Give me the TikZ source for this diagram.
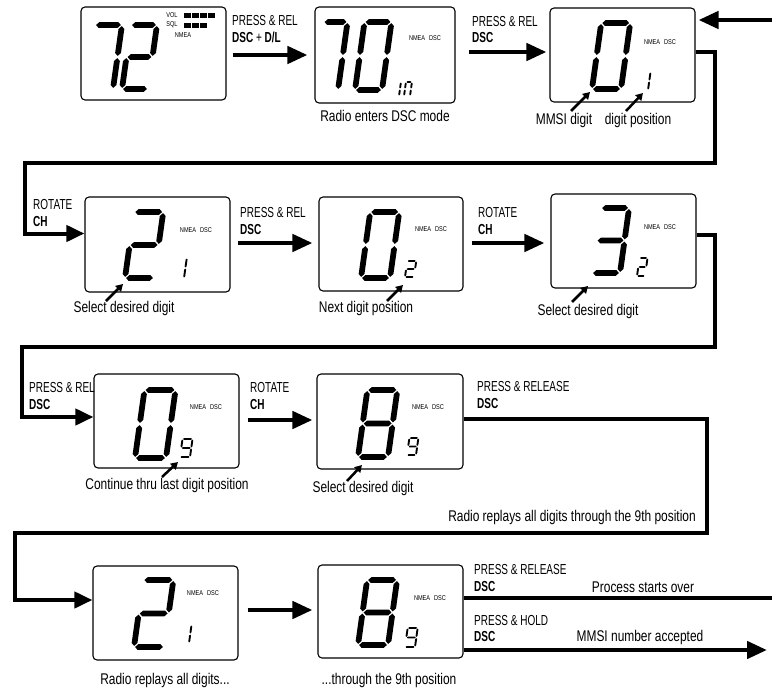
\documentclass[tikz,border=0pt]{standalone}
\usepackage{fontspec}
\setmainfont{Liberation Sans}[FakeStretch=0.77]
\newfontfamily\lblfont{Liberation Sans}[FakeStretch=0.69]
\newfontfamily\tinyfont{Liberation Sans}[FakeStretch=0.8]
\usetikzlibrary{arrows.meta,calc}

% seven-segment helpers
\newcommand\hsg[3]{\fill ({#1+\SG},{#3}) -- ({#1+\SG+\ST/2},{#3-\ST/2}) -- ({#2-\SG-\ST/2},{#3-\ST/2}) -- ({#2-\SG},{#3}) -- ({#2-\SG-\ST/2},{#3+\ST/2}) -- ({#1+\SG+\ST/2},{#3+\ST/2}) -- cycle;}
\newcommand\vsg[3]{\fill ({#1},{#2+\SG}) -- ({#1+\ST/2},{#2+\SG+\ST/2}) -- ({#1+\ST/2},{#3-\SG-\ST/2}) -- ({#1},{#3-\SG}) -- ({#1-\ST/2},{#3-\SG-\ST/2}) -- ({#1-\ST/2},{#2+\SG+\ST/2}) -- cycle;}
\newcommand\segXa{\hsg{0}{\SW}{-\SH}}
\newcommand\segXb{\vsg{\SW}{-\SH}{-\SH/2}}
\newcommand\segXc{\vsg{\SW}{-\SH/2}{0}}
\newcommand\segXd{\hsg{0}{\SW}{0}}
\newcommand\segXe{\vsg{0}{-\SH/2}{0}}
\newcommand\segXf{\vsg{0}{-\SH}{-\SH/2}}
\newcommand\segXg{\hsg{0}{\SW}{-\SH/2}}
% #1 x0, #2 y0 (bottom-left), #3 W, #4 H, #5 thickness, #6 gap, #7 segments
\newcommand\segdigit[7]{%
  \begin{scope}[shift={(#1,#2)},xslant=0.14]
    \def\SW{#3}\def\SH{#4}\def\ST{#5}\def\SG{#6}%
    \foreach \s in {#7}{\csname segX\s\endcsname}
  \end{scope}}
\newcommand\bigdig[5]{\segdigit{#1}{#2}{#3}{#4}{5.8}{1.1}{#5}}
\newcommand\smalldig[5]{\segdigit{#1}{#2}{#3}{#4}{1.9}{0.6}{#5}}

\begin{document}
\begin{tikzpicture}[x=1pt,y=-1pt,
  lcd/.style={draw, line width=1.1pt, rounded corners=4pt, minimum width=145pt, minimum height=94pt, inner sep=0pt},
  arr/.style={line width=4.5pt, -{Triangle[length=20pt,width=17pt]}},
  looparr/.style={line width=4pt, line join=miter, -{Triangle[length=18pt,width=16pt]}},
  loopline/.style={line width=4pt, line join=miter},
  sarr/.style={line width=2.5pt, -{Triangle[length=7pt,width=8pt]}},
  captxt/.style={font=\fontsize{15.5}{17}\selectfont, inner sep=0pt},
  lbltxt/.style={font=\lblfont\fontsize{14.5}{16}\selectfont, anchor=west, inner sep=0pt},
  tinytxt/.style={font=\tinyfont\fontsize{7}{8}\selectfont, inner sep=0pt}]
\useasboundingbox (0,0) rectangle (772,688);
\fill[white] (0,0) rectangle (772,688);

% ---------- boxes ----------
\node[lcd, minimum height=93pt] (A) at (153.5,53.5) {};
\node[lcd, minimum width=140pt, minimum height=96pt] (B) at (385,55) {};
\node[lcd] (C) at (622.5,55) {};
\node[lcd, minimum height=95pt] (D) at (157.5,244.5) {};
\node[lcd, minimum width=144pt] (E) at (391,244) {};
\node[lcd] (F) at (623.5,241) {};
\node[lcd] (G) at (166.5,421) {};
\node[lcd, minimum width=146pt, minimum height=95pt] (H) at (390,421.5) {};
\node[lcd] (I) at (165.5,613) {};
\node[lcd, minimum height=93pt] (J) at (390.5,611.5) {};

% ---------- display contents ----------
% A: 72, VOL/SQL bars
\bigdig{86}{89}{27}{64}{a,b,c}
\bigdig{122}{89}{26}{64}{a,b,g,e,d}
\node[tinytxt] (avol) at (172,15) {VOL};
\node[tinytxt] (asql) at (172,25) {SQL};
\node[tinytxt] (anm) at (183,35) {NMEA};
\foreach \x in {184,192,200,208} {\fill (\x,12.5) rectangle ++(7,5);}
\foreach \x in {184,192,200} {\fill (\x,22.5) rectangle ++(7,5);}
% B: 70 in
\bigdig{314}{90}{24}{68}{a,b,c}
\bigdig{355}{90}{27}{68}{a,b,c,d,e,f}
\smalldig{399}{96}{6}{14}{e,f}
\smalldig{404}{96}{6}{14}{a,b,c,e,f}
\node[tinytxt] (bnm) at (425,38) {NMEA\hspace{4pt}DSC};
% C: 0 1
\bigdig{592}{89}{29}{66}{a,b,c,d,e,f}
\smalldig{640}{90}{8}{18}{b,c}
\node[tinytxt] (cnm) at (660,42) {NMEA\hspace{4pt}DSC};
% D: 2 1
\bigdig{125}{278}{29}{66}{a,b,g,e,d}
\smalldig{176}{278}{8}{20}{b,c}
\node[tinytxt] (dnm) at (196,230) {NMEA\hspace{4pt}DSC};
% E: 0 2
\bigdig{361}{278}{29}{66}{a,b,c,d,e,f}
\smalldig{405}{277}{9}{16}{a,b,g,e,d}
\node[tinytxt] (enm) at (431,229) {NMEA\hspace{4pt}DSC};
% F: 3 2
\bigdig{592}{273}{28}{65}{a,b,g,c,d}
\smalldig{637}{276}{8}{18}{a,b,g,e,d}
\node[tinytxt] (fnm) at (660,227) {NMEA\hspace{4pt}DSC};
% G: 0 9
\bigdig{135}{458}{31}{68}{a,b,c,d,e,f}
\smalldig{180}{457}{10}{18}{a,b,c,d,f,g}
\node[tinytxt] (gnm) at (206,407) {NMEA\hspace{4pt}DSC};
% H: 8 9
\bigdig{358}{457}{30}{67}{a,b,c,d,e,f,g}
\smalldig{407}{455}{9}{17}{a,b,c,d,f,g}
\node[tinytxt] (hnm) at (428,407) {NMEA\hspace{4pt}DSC};
% I: 2 1
\bigdig{134}{647}{30}{67}{a,b,g,e,d}
\smalldig{181}{643}{8}{18}{b,c}
\node[tinytxt] (inm) at (203,593) {NMEA\hspace{4pt}DSC};
% J: 8 9
\bigdig{358}{645}{30}{65}{a,b,c,d,e,f,g}
\smalldig{405}{647}{10}{19}{a,b,c,d,f,g}
\node[tinytxt] (jnm) at (430,598) {NMEA\hspace{4pt}DSC};

% ---------- straight arrows ----------
\draw[arr, shorten <=6pt, shorten >=7pt] (A.east |- B.west) -- (B.west);
\draw[arr, shorten <=13pt, shorten >=3pt] ($(B.east)+(0,-3)$) -- ($(C.west)+(0,-3)$);
\draw[arr, shorten <=7pt, shorten >=6pt] ($(D.east)+(0,-1.5)$) -- ($(D.east -| E.west)+(0,-1.5)$);
\draw[arr, shorten <=8pt, shorten >=6pt] ($(E.east)+(0,-1)$) -- ($(E.east -| F.west)+(0,-1)$);
\draw[arr, shorten <=8pt, shorten >=4pt] ($(G.east)+(0,-1)$) -- ($(G.east -| H.west)+(0,-1)$);
\draw[arr, shorten <=9pt, shorten >=5pt] ($(I.east)+(0,-3)$) -- ($(I.east -| J.west)+(0,-3)$);

% incoming to C
\coordinate (cin) at (772,20);
\draw[arr, shorten >=3pt] (cin) -- (cin -| C.east);

% ---------- loops ----------
\coordinate (k1) at (715,163);
\coordinate (k2) at (25,163);
\draw[looparr] ($(C.east)+(0,-3)$) -| (k1) -- (k2) |- ($(D.west)+(0,-11)$);
\coordinate (k3) at (715,347);
\coordinate (k4) at (22,347);
\draw[looparr] ($(F.east)+(0,-6)$) -| (k3) -- (k4) |- ($(G.west)+(0,-4)$);
\coordinate (k5) at (707,533);
\coordinate (k6) at (15,533);
\draw[looparr] ($(H.east)+(0,-2.5)$) -| (k5) -- (k6) |- ($(I.west)+(0,-13)$);

% outputs of J
\coordinate (o1) at (772,598);
\draw[loopline] (J.east |- o1) -- (o1);
\coordinate (o2) at (767,650);
\draw[arr] (J.east |- o2) -- (o2);

% ---------- labels ----------
\node[lbltxt] (l1a) at (232,21) {PRESS \& REL};
\node[lbltxt] (l1b) at (232,37) {\textbf{DSC} + \textbf{D/L}};
\node[lbltxt] (l2a) at (472,22) {PRESS \& REL};
\node[lbltxt] (l2b) at (472,38) {\textbf{DSC}};
\node[lbltxt] (l3a) at (33,205) {ROTATE};
\node[lbltxt] (l3b) at (33,222) {\textbf{CH}};
\node[lbltxt] (l4a) at (240,213) {PRESS \& REL};
\node[lbltxt] (l4b) at (240,230) {\textbf{DSC}};
\node[lbltxt] (l5a) at (478,213) {ROTATE};
\node[lbltxt] (l5b) at (478,230) {\textbf{CH}};
\node[lbltxt] (l6a) at (29,388) {PRESS \& REL};
\node[lbltxt] (l6b) at (29,405) {\textbf{DSC}};
\node[lbltxt] (l7a) at (250,388) {ROTATE};
\node[lbltxt] (l7b) at (250,405) {\textbf{CH}};
\node[lbltxt] (l8a) at (477,387) {PRESS \& RELEASE};
\node[lbltxt] (l8b) at (477,404) {\textbf{DSC}};
\node[lbltxt] (l9a) at (474,570) {PRESS \& RELEASE};
\node[lbltxt] (l9b) at (474,587) {\textbf{DSC}};
\node[lbltxt] (l10a) at (474,621) {PRESS \& HOLD};
\node[lbltxt] (l10b) at (474,637) {\textbf{DSC}};

% ---------- captions ----------
\node[captxt] (c1) at (385,116) {Radio enters DSC mode};
\node[captxt] (c2) at (564,120) {MMSI digit};
\node[captxt] (c3) at (638,120) {digit position};
\node[captxt] (c4) at (124,308) {Select desired digit};
\node[captxt] (c5) at (366,308) {Next digit position};
\node[captxt] (c6) at (588,311) {Select desired digit};
\node[captxt] (c7) at (167,485) {Continue thru last digit position};
\node[captxt] (c8) at (363,488) {Select desired digit};
\node[captxt] (c9) at (572,517) {Radio replays all digits through the 9th position};
\node[captxt] (c10) at (165,680) {Radio replays all digits...};
\node[captxt] (c11) at (389,680) {...through the 9th position};
\node[captxt] (c12) at (643,587) {Process starts over};
\node[captxt] (c13) at (640,637) {MMSI number accepted};

% ---------- pointer arrows ----------
\coordinate (p1s) at (571,111); \coordinate (p1e) at (590,92);
\coordinate (p2s) at (626,111); \coordinate (p2e) at (643,93);
\coordinate (p3s) at (106,301); \coordinate (p3e) at (123,284);
\coordinate (p4s) at (387,301); \coordinate (p4e) at (403,285);
\coordinate (p5s) at (572,302); \coordinate (p5e) at (588,286);
\coordinate (p6s) at (162,477); \coordinate (p6e) at (178,462);
\coordinate (p7s) at (347,481); \coordinate (p7e) at (362,465);
\foreach \i in {1,...,7} {\draw[sarr] (p\i s) -- (p\i e);}
\end{tikzpicture}
\end{document}
